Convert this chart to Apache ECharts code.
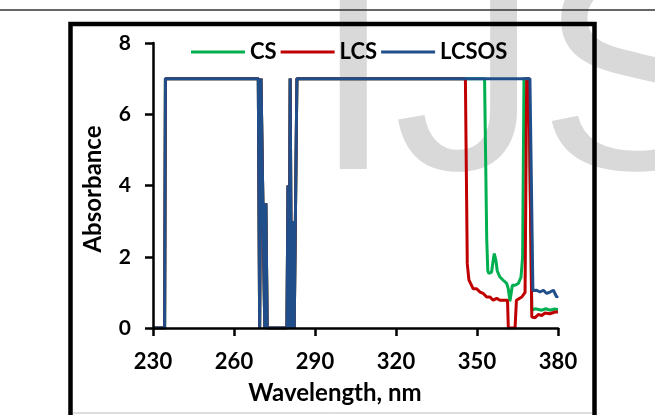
<!DOCTYPE html>
<html>
<head>
<meta charset="utf-8">
<script src="https://cdn.jsdelivr.net/npm/echarts@6/dist/echarts.min.js"></script>
<style>
  html, body { margin: 0; padding: 0; background: #fff; }
  #main { width: 655px; height: 415px; }
</style>
</head>
<body>
<div id="main"></div>
<script>
// 波长 / 吸光度
var csWl   = [230, 234.3, 234.6, 269, 269.5, 270, 270.6, 271.4, 271.8, 272.3, 279.6, 280.0, 280.4, 280.8, 281.3, 281.8, 282.3, 282.8, 283.3,
              352.8, 353.6, 354.0, 354.4, 355.4, 356.0, 356.4, 357.0, 357.5, 358.5, 359.7, 361.0, 361.6, 362.2, 362.6, 363.1,
              364.1, 365.3, 366.3, 366.9, 367.4, 369.2, 370.3, 371.5, 372.8, 374, 375.5, 377, 378.5, 380];
var csAbs  = [0, 0, 7, 7, 0, 7, 7, 0, 3.5, 0, 0, 4, 0, 7, 0, 3, 0, 0, 7,
              7, 2.5, 1.6, 1.53, 1.57, 1.9, 2.09, 1.9, 1.6, 1.43, 1.34, 1.25, 1.1, 0.75, 0.75, 1.2,
              1.2, 1.25, 1.43, 2.0, 7, 7, 0.5, 0.54, 0.52, 0.5, 0.54, 0.5, 0.53, 0.52];

var lcsWl  = [230, 234.3, 234.6, 269, 269.5, 270, 270.6, 271.4, 271.8, 272.3, 279.6, 280.0, 280.4, 280.8, 281.3, 281.8, 282.3, 282.8, 283.3,
              345.7, 346.4, 347.0, 348.6, 349.9, 351.1, 352.3, 353.6, 354.8, 356.0, 357.3, 358.5, 360.4, 361.3, 361.6,
              364.1, 364.6, 366.6, 367.8, 368.4, 369.2, 370.3, 371.5, 372.7, 374, 375.2, 377, 378.9, 380];
var lcsAbs = [0, 0, 7, 7, 0, 7, 7, 0, 3.5, 0, 0, 4, 0, 7, 0, 3, 0, 0, 7,
              7, 1.8, 1.35, 1.1, 1.1, 1.01, 0.97, 0.87, 0.87, 0.78, 0.83, 0.78, 0.78, 0.78, 0,
              0, 0.78, 0.87, 1.0, 7, 7, 0.31, 0.29, 0.38, 0.35, 0.42, 0.4, 0.45, 0.45];

var lcsosWl  = [230, 234.3, 234.6, 269, 269.5, 270, 270.6, 271.4, 271.8, 272.3, 279.6, 280.0, 280.4, 280.8, 281.3, 281.8, 282.3, 282.8, 283.3,
                369.6, 370.7, 371.2, 372.1, 373.3, 374.6, 375.8, 377, 378.3, 379.5, 380];
var lcsosAbs = [0, 0, 7, 7, 0, 7, 7, 0, 3.5, 0, 0, 4, 0, 7, 0, 3, 0, 0, 7,
                7, 1.05, 1.01, 1.06, 1.01, 1.06, 0.97, 1.01, 1.06, 0.87, 0.9];

var xTicks = [230, 260, 290, 320, 350, 380];
var yTicks = [0, 2, 4, 6, 8];

function pairs(wl, ab) {
	var arr = [];
	for (var i = 0; i < wl.length; i++) {
		arr.push([wl[i], ab[i]]);
	}
	return arr;
}

var fontName = 'Lato';
var myChart = echarts.init(document.getElementById('main'));
var option = {
	backgroundColor: '#fff',
	animation: false,
	graphic: [
		// 水印
		{ type: 'text', z: -10, left: 313, top: -56,
		  style: { text: 'IJS', font: '290px "Liberation Sans"', fill: '#d9d9d9' } },
		// 顶部细线
		{ type: 'line', z: -5, shape: { x1: 0, y1: 10, x2: 655, y2: 10 },
		  style: { stroke: '#333', lineWidth: 1.5 } },
		// 图表外框
		{ type: 'rect', z: -5, shape: { x: 70.5, y: 24, width: 524, height: 410 },
		  style: { fill: 'none', stroke: '#000', lineWidth: 4.5 } },
		{ type: 'line', z: -5, shape: { x1: 73, y1: 413, x2: 592, y2: 413 },
		  style: { stroke: '#bbb', lineWidth: 1 } },
		// 坐标轴标题
		{ type: 'text', x: 335, y: 393,
		  style: { text: 'Wavelength, nm', font: 'bold 24px ' + fontName, fill: '#000',
		           align: 'center', verticalAlign: 'middle' } },
		{ type: 'text', x: 93, y: 189, rotation: Math.PI / 2,
		  style: { text: 'Absorbance', font: 'bold 24px ' + fontName, fill: '#000',
		           align: 'center', verticalAlign: 'middle' } }
	],
	legend: {
		left: 186,
		top: 36,
		itemWidth: 54,
		itemHeight: 3,
		itemGap: 4,
		icon: 'rect',
		textStyle: { fontFamily: fontName, fontWeight: 'bold', fontSize: 22, color: '#000' },
		data: ['CS', 'LCS', 'LCSOS']
	},
	grid: { left: 153, top: 43, width: 405, height: 285 },
	xAxis: {
		type: 'value',
		min: xTicks[0],
		max: xTicks[xTicks.length - 1],
		interval: 30,
		z: 5,
		axisLine: { lineStyle: { color: '#000', width: 2.5 } },
		axisTick: { length: 8, lineStyle: { color: '#000', width: 2.5 } },
		axisLabel: { margin: 23, color: '#000', fontFamily: fontName, fontWeight: 'bold', fontSize: 22 },
		splitLine: { show: false }
	},
	yAxis: {
		type: 'value',
		min: yTicks[0],
		max: yTicks[yTicks.length - 1],
		interval: 2,
		z: 5,
		axisLine: { show: true, lineStyle: { color: '#000', width: 2.5 } },
		axisTick: { show: true, length: 8, lineStyle: { color: '#000', width: 2.5 } },
		axisLabel: { margin: 22, color: '#000', fontFamily: fontName, fontWeight: 'bold', fontSize: 21 },
		splitLine: { show: false }
	},
	series: [
		{ name: 'CS', type: 'line', showSymbol: false, color: '#00b050',
		  lineStyle: { width: 3 }, data: pairs(csWl, csAbs) },
		{ name: 'LCS', type: 'line', showSymbol: false, color: '#c00000',
		  lineStyle: { width: 3 }, data: pairs(lcsWl, lcsAbs) },
		{ name: 'LCSOS', type: 'line', showSymbol: false, color: '#1f4e8a',
		  lineStyle: { width: 3 }, data: pairs(lcsosWl, lcsosAbs) }
	]
};
myChart.setOption(option);
</script>
</body>
</html>
